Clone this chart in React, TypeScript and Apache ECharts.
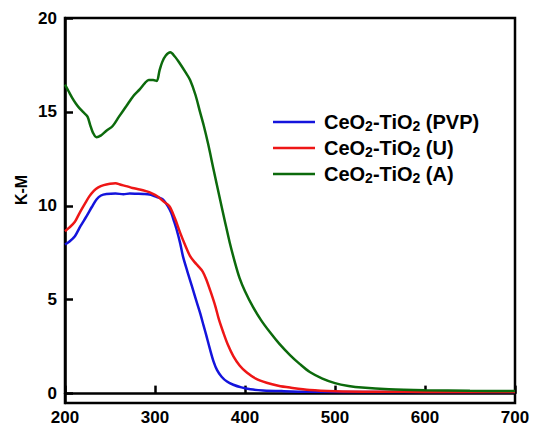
import React, { useEffect, useRef } from "react";
import * as echarts from "echarts";

// Wavelength (nm) and K-M values
const pvpX = [200, 205, 211, 217, 224, 230, 235, 240, 246, 256, 265, 272, 280, 287, 294, 300, 305, 309, 314, 318, 321, 324, 328, 331, 336, 341, 345, 350, 354, 357, 361, 365, 369, 374, 380, 387, 396, 406, 420, 443, 470, 550, 700];
const pvpY = [7.94, 8.1, 8.38, 8.9, 9.45, 9.95, 10.34, 10.55, 10.63, 10.65, 10.62, 10.65, 10.64, 10.63, 10.6, 10.5, 10.43, 10.33, 10.0, 9.63, 9.2, 8.74, 8.0, 7.32, 6.5, 5.72, 5.08, 4.31, 3.62, 3.1, 2.38, 1.72, 1.25, 0.9, 0.64, 0.47, 0.33, 0.23, 0.17, 0.13, 0.1, 0.08, 0.08];

const uX = [200, 205, 211, 216, 222, 227, 232, 237, 243, 250, 256, 262, 268, 275, 283, 290, 296, 303, 309, 316, 322, 328, 334, 339, 344, 348, 353, 357, 362, 367, 371, 376, 381, 387, 394, 402, 412, 424, 437, 450, 472, 500, 550, 600, 700];
const uY = [8.65, 8.85, 9.15, 9.6, 10.1, 10.5, 10.8, 10.98, 11.1, 11.17, 11.2, 11.12, 11.05, 10.95, 10.87, 10.78, 10.68, 10.5, 10.25, 9.98, 9.35, 8.56, 7.85, 7.32, 7.0, 6.79, 6.5, 6.08, 5.4, 4.66, 3.95, 3.24, 2.6, 2.0, 1.5, 1.12, 0.8, 0.58, 0.42, 0.32, 0.19, 0.13, 0.1, 0.09, 0.08];

const aX = [200, 204, 208, 212, 216, 220, 225, 228, 231, 235, 240, 246, 253, 260, 268, 276, 283, 289, 293, 298, 302, 305, 308, 312, 317, 322, 328, 334, 339, 345, 350, 354, 359, 365, 372, 378, 383, 389, 394, 400, 409, 418, 428, 438, 450, 461, 472, 486, 500, 515, 530, 560, 600, 650, 700];
const aY = [16.45, 16.1, 15.75, 15.45, 15.2, 15.0, 14.75, 14.3, 13.9, 13.65, 13.75, 14.0, 14.25, 14.75, 15.3, 15.85, 16.2, 16.55, 16.7, 16.7, 16.65, 17.2, 17.65, 18.0, 18.17, 17.95, 17.55, 17.1, 16.7, 15.9, 15.0, 14.3, 13.3, 11.95, 10.4, 9.1, 8.05, 6.95, 6.15, 5.45, 4.6, 3.9, 3.25, 2.66, 2.05, 1.57, 1.15, 0.8, 0.56, 0.41, 0.32, 0.23, 0.18, 0.15, 0.14];

const seriesNames = ["CeO2-TiO2 (PVP)", "CeO2-TiO2 (U)", "CeO2-TiO2 (A)"];
const legendRich: Record<string, string> = {
  "CeO2-TiO2 (PVP)": "{m|CeO}{s|2}{m|-TiO}{s|2}{m| (PVP)}",
  "CeO2-TiO2 (U)": "{m|CeO}{s|2}{m|-TiO}{s|2}{m| (U)}",
  "CeO2-TiO2 (A)": "{m|CeO}{s|2}{m|-TiO}{s|2}{m| (A)}",
};
const xTicks = [200, 300, 400, 500, 600, 700];
const yTicks = [0, 5, 10, 15, 20];

const zip = (xs: number[], ys: number[]) => xs.map((x, i) => [x, ys[i]]);

const FONT = "Liberation Sans, Arial, sans-serif";

export default function App() {
  const ref = useRef<HTMLDivElement>(null);
  useEffect(() => {
    if (!ref.current) return;
    const chart = echarts.init(ref.current, undefined, { renderer: "svg" });
    const lineSeries = (name: string, data: number[][], color: string) => ({
      name,
      type: "line",
      data,
      symbol: "none",
      smooth: 0.3,
      lineStyle: { color, width: 2.5 },
      itemStyle: { color },
    });
    chart.setOption({
      animation: false,
      backgroundColor: "#ffffff",
      grid: {
        left: 65,
        right: 18,
        top: 18,
        bottom: 24,
        show: true,
        borderColor: "#000",
        borderWidth: 2.5,
        outerBoundsMode: "none",
      },
      xAxis: {
        type: "value",
        min: 200,
        max: 700,
        interval: 100,
        splitLine: { show: false },
        axisLine: { show: true, lineStyle: { color: "#000", width: 2.5 } },
        axisTick: { show: true, inside: true, length: 8, lineStyle: { color: "#000", width: 2.5 }, customValues: xTicks },
        axisLabel: {
          margin: 6,
          color: "#000",
          fontSize: 17,
          lineHeight: 17,
          fontWeight: "bold",
          fontFamily: FONT,
          customValues: xTicks,
          showMinLabel: true,
          showMaxLabel: true,
        },
      },
      yAxis: {
        type: "value",
        min: -0.5,
        max: 20,
        splitLine: { show: false },
        axisLine: { show: true, lineStyle: { color: "#000", width: 2.5 } },
        axisTick: { show: true, inside: true, length: 8, lineStyle: { color: "#000", width: 2.5 }, customValues: yTicks },
        axisLabel: {
          margin: 8,
          color: "#000",
          fontSize: 17,
          fontWeight: "bold",
          fontFamily: FONT,
          customValues: yTicks,
        },
      },
      legend: {
        orient: "vertical",
        left: 273,
        top: 112,
        padding: 0,
        itemWidth: 42,
        itemHeight: 14,
        itemGap: 5,
        icon: "path://M0,6 L42,6 L42,8.7 L0,8.7 Z",
        data: seriesNames,
        formatter: (name: string) => legendRich[name],
        textStyle: {
          padding: [0, 0, 0, 4],
          rich: {
            m: { fontSize: 20, fontWeight: "bold", fontFamily: FONT, color: "#000", lineHeight: 22 },
            s: { fontSize: 14, fontWeight: "bold", fontFamily: FONT, color: "#000", lineHeight: 14, verticalAlign: "bottom" },
          },
        },
      },
      graphic: [
        {
          type: "text",
          x: 21,
          y: 190,
          rotation: Math.PI / 2,
          style: {
            text: "K-M",
            fontSize: 16,
            fontWeight: "bold",
            fontFamily: FONT,
            fill: "#000",
            align: "center",
            verticalAlign: "middle",
          },
        },
      ],
      series: [
        lineSeries(seriesNames[0], zip(pvpX, pvpY), "#1414dc"),
        lineSeries(seriesNames[1], zip(uX, uY), "#ee1616"),
        lineSeries(seriesNames[2], zip(aX, aY), "#0c6a0c"),
      ],
    });
    return () => chart.dispose();
  }, []);
  return <div ref={ref} style={{ position: "fixed", left: 0, top: 0, width: 533, height: 427 }} />;
}
